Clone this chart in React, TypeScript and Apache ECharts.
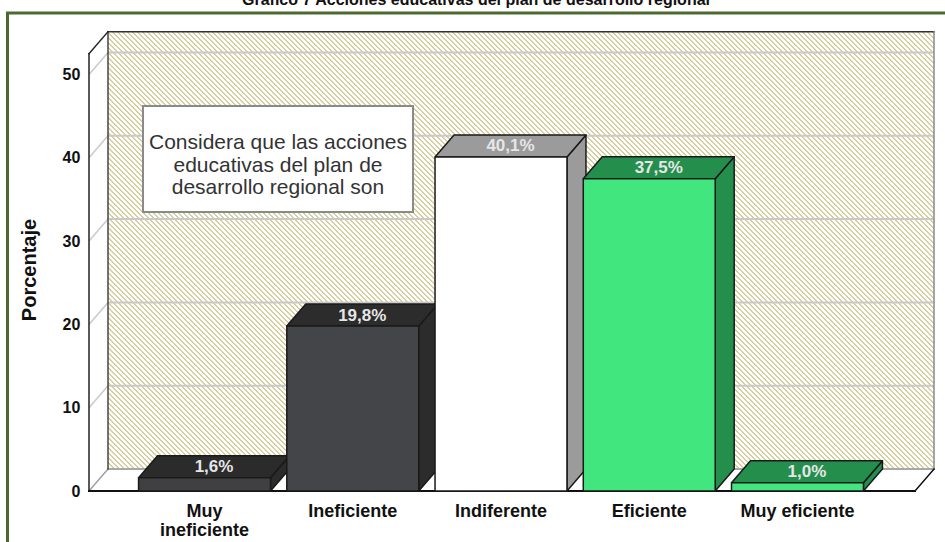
import React, { useEffect, useRef } from 'react';
import * as echarts from 'echarts';

// ---- data ----
const categories: string[] = ['Muy\nineficiente', 'Ineficiente', 'Indiferente', 'Eficiente', 'Muy eficiente'];
const percentages: number[] = [1.6, 19.8, 40.1, 37.5, 1.0];
const valueLabels: string[] = ['1,6%', '19,8%', '40,1%', '37,5%', '1,0%'];
const yTicks: number[] = [0, 10, 20, 30, 40, 50];
const frontColors: string[] = ['#404042', '#444548', '#ffffff', '#42e67e', '#42e67e'];
const shadeColors: string[] = ['#2b2b2b', '#2c2c2d', '#9b9b9b', '#248e4d', '#248e4d'];
const titleText = 'Gráfico 7 Acciones educativas del plan de desarrollo regional';
const noteText = 'Considera que las acciones\neducativas del plan de\ndesarrollo regional son';
const yAxisName = 'Porcentaje';

const FONT = '"Liberation Sans", Arial, Helvetica, sans-serif';
const DX = 19;
const DY = 22;
const Y_MAX = 52.5;

function makeHatch(): HTMLCanvasElement {
  const n = 5;
  const c = document.createElement('canvas');
  c.width = n;
  c.height = n;
  const ctx = c.getContext('2d') as CanvasRenderingContext2D;
  const img = ctx.createImageData(n, n);
  for (let y = 0; y < n; y++) {
    for (let x = 0; x < n; x++) {
      const k = (((x - y) % n) + n) % n;
      const i = (y * n + x) * 4;
      const khaki = k < 2;
      img.data[i] = khaki ? 216 : 255;
      img.data[i + 1] = khaki ? 207 : 255;
      img.data[i + 2] = khaki ? 160 : 255;
      img.data[i + 3] = 255;
    }
  }
  ctx.putImageData(img, 0, 0);
  return c;
}

export default function App() {
  const ref = useRef<HTMLDivElement>(null);

  useEffect(() => {
    if (!ref.current) return;
    const chart = echarts.init(ref.current, undefined, { renderer: 'svg' });
    const hatch = makeHatch();

    const wallsRender = (params: any, api: any) => {
      const cs = params.coordSys;
      const fl = cs.x - 41.4;
      const fr = cs.x + cs.width + 43.4;
      const y0 = api.coord([0, 0])[1];
      const yTop = api.coord([0, Y_MAX])[1];
      const children: any[] = [];
      children.push({
        type: 'rect',
        shape: { x: fl + DX, y: yTop - DY, width: fr - fl, height: y0 - yTop },
        style: { fill: { image: hatch, repeat: 'repeat', imageWidth: 5, imageHeight: 5 }, stroke: null },
      });
      yTicks.forEach((v) => {
        if (v === 0) return;
        const y = api.coord([0, v])[1];
        children.push({
          type: 'line',
          shape: { x1: fl + DX, y1: y - DY, x2: fr + DX, y2: y - DY },
          style: { stroke: '#c9c9c9', lineWidth: 2 },
        });
        children.push({
          type: 'line',
          shape: { x1: fl, y1: y, x2: fl + DX, y2: y - DY },
          style: { stroke: '#c9c9c9', lineWidth: 1.5 },
        });
      });
      children.push({
        type: 'polygon',
        shape: { points: [[fl, y0], [fr, y0], [fr + DX, y0 - DY], [fl + DX, y0 - DY]] },
        style: { fill: '#ffffff', stroke: null },
      });
      const line = (x1: number, y1: number, x2: number, y2: number, stroke: string, w: number) => ({
        type: 'line',
        shape: { x1, y1, x2, y2 },
        style: { stroke, lineWidth: w, lineCap: 'square' },
      });
      children.push(line(fl + DX, y0 - DY, fr + DX, y0 - DY, '#a8a8a8', 2));
      children.push(line(fl, y0, fl + DX, y0 - DY, '#a0a0a0', 1.5));
      children.push(line(fl + DX, yTop - DY, fl + DX, y0 - DY, '#444444', 1.5));
      children.push(line(fl + DX, yTop - DY, fr + DX, yTop - DY, '#333333', 1.5));
      children.push(line(fr + DX, yTop - DY, fr + DX, y0 - DY, '#8a8a8a', 1.5));
      children.push(line(fl, yTop, fl, y0, '#222222', 1.5));
      children.push(line(fl, yTop, fl + DX, yTop - DY, '#222222', 1.5));
      children.push(line(fl, y0, fr, y0, '#111111', 2));
      children.push(line(fr, y0, fr + DX, y0 - DY, '#111111', 1.5));
      return { type: 'group', children };
    };

    const barsRender = (params: any, api: any) => {
      const i = api.value(0);
      const v = api.value(1);
      const top = api.coord([i, v]);
      const cx = top[0];
      const yT = top[1];
      const y0 = api.coord([i, 0])[1];
      const bw = api.size([1, 0])[0] * 0.89;
      const l = cx - bw / 2;
      const r = cx + bw / 2;
      const edge = { stroke: '#1a1a1a', lineWidth: 1.5, lineJoin: 'round' };
      return {
        type: 'group',
        children: [
          {
            type: 'polygon',
            shape: { points: [[r, yT], [r + DX, yT - DY], [r + DX, y0 - DY], [r, y0]] },
            style: { fill: shadeColors[i], ...edge },
          },
          {
            type: 'polygon',
            shape: { points: [[l, yT], [l + DX, yT - DY], [r + DX, yT - DY], [r, yT]] },
            style: { fill: shadeColors[i], ...edge },
          },
          {
            type: 'rect',
            shape: { x: l, y: yT, width: bw, height: y0 - yT },
            style: { fill: frontColors[i], ...edge },
          },
          {
            type: 'text',
            style: {
              text: valueLabels[i],
              x: cx + DX / 2,
              y: yT - DY / 2,
              fill: '#e6e6e6',
              fontSize: 17,
              fontWeight: 'bold',
              fontFamily: FONT,
              align: 'center',
              verticalAlign: 'middle',
            },
          },
        ],
      };
    };

    const option: any = {
      animation: false,
      backgroundColor: '#ffffff',
      grid: { left: 130.4, right: 73.4, top: 53.7, bottom: 51 },
      xAxis: {
        type: 'category',
        data: categories,
        axisLine: { show: false },
        axisTick: { show: false },
        splitLine: { show: false },
        axisLabel: {
          interval: 0,
          margin: 10,
          color: '#111111',
          fontSize: 18,
          fontWeight: 'bold',
          fontFamily: FONT,
          lineHeight: 19,
        },
      },
      yAxis: {
        type: 'value',
        min: 0,
        max: Y_MAX,
        interval: 10,
        axisLine: { show: false },
        axisTick: { show: false },
        splitLine: { show: false },
        axisLabel: {
          showMaxLabel: false,
          margin: 50,
          color: '#111111',
          fontSize: 16,
          fontWeight: 'bold',
          fontFamily: FONT,
        },
      },
      series: [
        {
          type: 'custom',
          z: 1,
          silent: true,
          data: [[0, 0]],
          renderItem: wallsRender,
        },
        {
          type: 'custom',
          z: 2,
          silent: true,
          data: percentages.map((v, i) => [i, v]),
          encode: { x: 0, y: 1 },
          renderItem: barsRender,
        },
      ],
      graphic: [
        {
          type: 'rect',
          z: 50,
          silent: true,
          shape: { x: 7.5, y: 13, width: 1000, height: 600 },
          style: { fill: null, stroke: '#4b6a2f', lineWidth: 3 },
        },
        {
          type: 'text',
          z: 50,
          silent: true,
          style: {
            text: titleText,
            x: 476,
            y: 7,
            fill: '#111111',
            fontSize: 16,
            fontWeight: 'bold',
            fontFamily: FONT,
            align: 'center',
            verticalAlign: 'bottom',
          },
        },
        {
          type: 'text',
          z: 50,
          silent: true,
          rotation: Math.PI / 2,
          x: 29,
          y: 270,
          style: {
            text: yAxisName,
            x: 0,
            y: 0,
            fill: '#111111',
            fontSize: 20,
            fontWeight: 'bold',
            fontFamily: FONT,
            align: 'center',
            verticalAlign: 'middle',
          },
        },
        {
          type: 'rect',
          z: 60,
          silent: true,
          shape: { x: 143, y: 106, width: 270, height: 106 },
          style: { fill: '#ffffff', stroke: '#8a8a8a', lineWidth: 2 },
        },
        {
          type: 'text',
          z: 61,
          silent: true,
          style: {
            text: noteText,
            x: 278,
            y: 164,
            fill: '#333333',
            fontSize: 21,
            lineHeight: 22.5,
            fontFamily: FONT,
            align: 'center',
            verticalAlign: 'middle',
          },
        },
      ],
    };

    chart.setOption(option);
    return () => {
      chart.dispose();
    };
  }, []);

  return (
    <div
      ref={ref}
      style={{ position: 'fixed', left: 0, top: 0, width: 945, height: 542, background: '#ffffff' }}
    />
  );
}
